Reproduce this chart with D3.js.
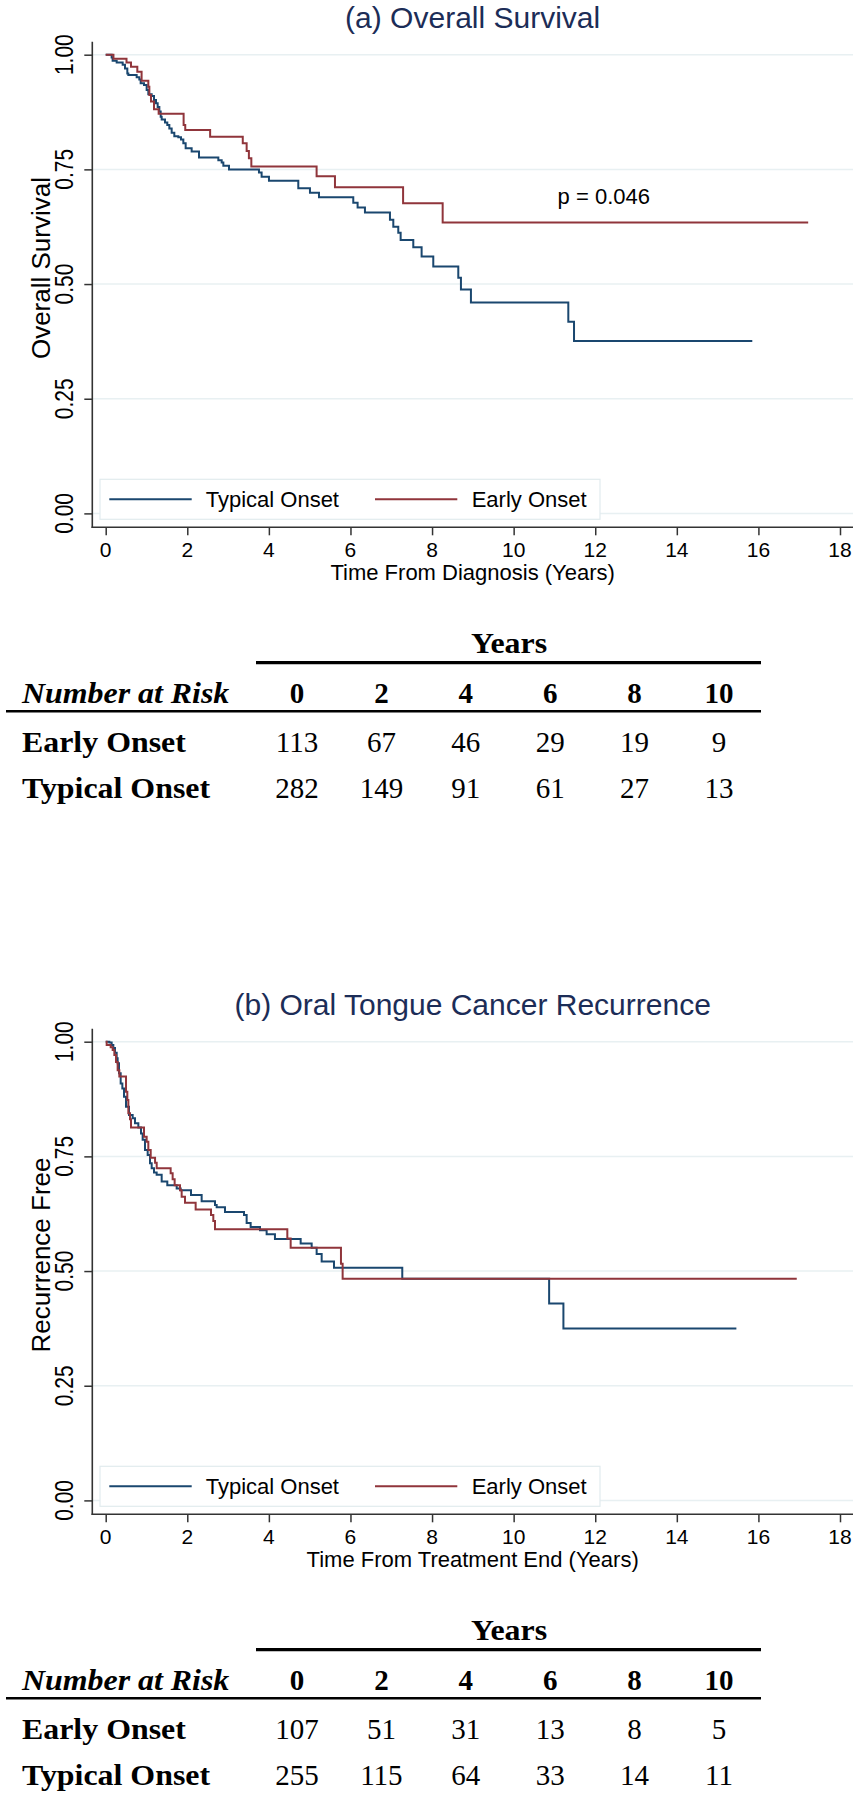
<!DOCTYPE html>
<html>
<head>
<meta charset="utf-8">
<script src="https://cdn.jsdelivr.net/npm/d3@7"></script>
<style>
  html, body { margin: 0; padding: 0; background: #fff; }
  svg { display: block; }
</style>
</head>
<body>
<div id="chart"></div>
<script>
// ---------------- DATA ----------------
// (a) Overall survival — step times (years) and survival values
const osTypicalT = [0, 0.146, 0.17, 0.269, 0.416, 0.473, 0.53, 0.555, 0.759, 0.824, 0.857, 0.939, 1.004, 1.045, 1.127, 1.184, 1.233, 1.274, 1.315, 1.348, 1.372, 1.453, 1.51, 1.56, 1.617, 1.682, 1.78, 1.846, 1.903, 1.96, 2.107, 2.287, 2.761, 2.843, 2.884, 3.022, 3.757, 3.822, 4.002, 4.721, 5.007, 5.228, 6.069, 6.175, 6.355, 6.968, 7.05, 7.172, 7.23, 7.54, 7.744, 8.03, 8.643, 8.708, 8.953, 11.34, 11.48, 15.85];
const osTypicalS = [1, 0.994, 0.987, 0.983, 0.978, 0.970, 0.959, 0.956, 0.951, 0.946, 0.938, 0.934, 0.923, 0.914, 0.910, 0.901, 0.894, 0.886, 0.876, 0.865, 0.859, 0.852, 0.847, 0.839, 0.830, 0.822, 0.820, 0.815, 0.807, 0.796, 0.789, 0.776, 0.770, 0.765, 0.758, 0.750, 0.743, 0.734, 0.725, 0.709, 0.699, 0.689, 0.677, 0.667, 0.656, 0.640, 0.625, 0.612, 0.596, 0.580, 0.560, 0.538, 0.514, 0.488, 0.460, 0.418, 0.376, 0.376];
const osEarlyT = [0, 0.19, 0.51, 0.62, 0.775, 0.88, 1.045, 1.07, 1.11, 1.184, 1.298, 1.91, 1.95, 2.56, 3.36, 3.455, 3.51, 3.57, 5.17, 5.62, 7.29, 8.26, 17.22];
const osEarlyS = [1, 0.991, 0.983, 0.974, 0.963, 0.943, 0.930, 0.912, 0.898, 0.881, 0.871, 0.847, 0.836, 0.821, 0.807, 0.790, 0.774, 0.756, 0.735, 0.711, 0.676, 0.634, 0.634];

// (b) Recurrence free
const rfTypicalT = [0, 0.089, 0.146, 0.187, 0.228, 0.269, 0.293, 0.326, 0.367, 0.408, 0.449, 0.498, 0.571, 0.661, 0.718, 0.8, 0.865, 0.906, 0.963, 1.029, 1.086, 1.127, 1.184, 1.249, 1.372, 1.51, 1.74, 1.838, 2.091, 2.352, 2.679, 2.72, 2.924, 3.39, 3.455, 3.553, 3.782, 3.945, 4.149, 4.779, 5.049, 5.171, 5.294, 5.596, 7.27, 10.87, 11.22, 15.46];
const rfTypicalS = [1, 0.998, 0.993, 0.986, 0.976, 0.964, 0.953, 0.931, 0.909, 0.898, 0.880, 0.858, 0.840, 0.833, 0.822, 0.813, 0.800, 0.786, 0.764, 0.753, 0.735, 0.724, 0.715, 0.710, 0.695, 0.687, 0.680, 0.676, 0.666, 0.652, 0.644, 0.639, 0.629, 0.622, 0.605, 0.596, 0.589, 0.580, 0.570, 0.560, 0.551, 0.537, 0.521, 0.507, 0.483, 0.429, 0.375, 0.375];
const rfEarlyT = [0, 0.024, 0.122, 0.171, 0.212, 0.253, 0.293, 0.334, 0.498, 0.53, 0.555, 0.596, 0.62, 0.939, 1.004, 1.045, 1.103, 1.21, 1.25, 1.592, 1.641, 1.69, 1.821, 1.862, 1.944, 2.205, 2.581, 2.638, 2.679, 4.452, 4.534, 5.767, 5.808, 16.94];
const rfEarlyS = [1, 0.993, 0.988, 0.982, 0.971, 0.956, 0.938, 0.924, 0.891, 0.873, 0.844, 0.831, 0.813, 0.793, 0.782, 0.764, 0.747, 0.736, 0.724, 0.713, 0.700, 0.687, 0.676, 0.662, 0.649, 0.634, 0.622, 0.609, 0.591, 0.571, 0.551, 0.516, 0.483, 0.483];

// Axis ticks
const xTicks = [0, 2, 4, 6, 8, 10, 12, 14, 16, 18];
const yTicks = [0, 0.25, 0.5, 0.75, 1];

// Legend / series
const seriesNames = ["Typical Onset", "Early Onset"];

// Number at risk tables
const riskYears = [0, 2, 4, 6, 8, 10];
const osRiskEarly = [113, 67, 46, 29, 19, 9];
const osRiskTypical = [282, 149, 91, 61, 27, 13];
const rfRiskEarly = [107, 51, 31, 13, 8, 5];
const rfRiskTypical = [255, 115, 64, 33, 14, 11];

// ---------------- DRAWING ----------------
const W = 863, H = 1800;
const BLUE = "#1a476f", RED = "#90353b", GRID = "#e8f0f2", TITLE = "#1c2d57";
const SANS = "'Liberation Sans', Arial, sans-serif";
const SERIF = "'Liberation Serif', 'Times New Roman', serif";

const svg = d3.select("#chart").append("svg")
  .attr("width", W).attr("height", H)
  .attr("viewBox", `0 0 ${W} ${H}`);
svg.append("rect").attr("width", W).attr("height", H).attr("fill", "#fff");

const panels = [
  { dy: 0, title: "(a) Overall Survival", ytitle: "Overall Survival",
    xtitle: "Time From Diagnosis (Years)",
    typ: [osTypicalT, osTypicalS], early: [osEarlyT, osEarlyS],
    pval: "p = 0.046", riskE: osRiskEarly, riskT: osRiskTypical },
  { dy: 987, title: "(b) Oral Tongue Cancer Recurrence", ytitle: "Recurrence Free",
    xtitle: "Time From Treatment End (Years)",
    typ: [rfTypicalT, rfTypicalS], early: [rfEarlyT, rfEarlyS],
    pval: null, riskE: rfRiskEarly, riskT: rfRiskTypical }
];

function stxt(g, x, y, str, o) {
  const t = g.append("text")
    .attr("transform", `translate(${x},${y})` + (o.rot ? ` rotate(${o.rot})` : "") + (o.sx ? ` scale(${o.sx},1)` : ""))
    .attr("x", 0).attr("y", 0)
    .attr("font-family", o.family || SANS)
    .attr("font-size", o.size)
    .attr("fill", o.fill || "#000")
    .attr("text-anchor", o.anchor || "start")
    .text(str);
  if (o.weight) t.attr("font-weight", o.weight);
  if (o.style) t.attr("font-style", o.style);
  return t;
}

panels.forEach(p => {
  const g = svg.append("g").attr("transform", `translate(0,${p.dy})`);
  const plotL = 92.3, plotR = 853, axisY = 527.3, axisTop = 41.7;
  const x = d3.scaleLinear().domain([0, 18]).range([105.7, 840]);
  const y = d3.scaleLinear().domain([0, 1]).range([513.4, 54.7]);

  // gridlines
  g.append("g").selectAll("line").data(yTicks).join("line")
    .attr("x1", plotL).attr("x2", plotR)
    .attr("y1", d => y(d)).attr("y2", d => y(d))
    .attr("stroke", GRID).attr("stroke-width", 1.5);

  // title
  stxt(g, (plotL + plotR) / 2, 28, p.title, { size: 30, anchor: "middle", fill: TITLE });

  // y axis
  const ya = g.append("g").attr("transform", `translate(${plotL},0)`)
    .call(d3.axisLeft(y).tickValues(yTicks).tickSize(8).tickFormat(""));
  ya.select(".domain").remove();
  ya.selectAll(".tick line").attr("stroke", "#333").attr("stroke-width", 1.5);
  yTicks.forEach(v => {
    stxt(g, 73.3, y(v), d3.format(".2f")(v), { size: 25, anchor: "middle", rot: -90, sx: 0.84 });
  });
  g.append("line").attr("x1", plotL).attr("x2", plotL).attr("y1", axisTop).attr("y2", axisY + 0.8)
    .attr("stroke", "#333").attr("stroke-width", 1.6);
  stxt(g, 50, y(0.5) - 16, p.ytitle, { size: 26, anchor: "middle", rot: -90 });

  // x axis
  const xa = g.append("g").attr("transform", `translate(0,${axisY})`)
    .call(d3.axisBottom(x).tickValues(xTicks).tickSize(8).tickFormat(""));
  xa.select(".domain").remove();
  xa.selectAll(".tick line").attr("stroke", "#333").attr("stroke-width", 1.5);
  xTicks.forEach(v => {
    stxt(g, x(v), axisY + 29.7, String(v), { size: 21, anchor: "middle" });
  });
  g.append("line").attr("x1", plotL - 0.8).attr("x2", plotR).attr("y1", axisY).attr("y2", axisY)
    .attr("stroke", "#333").attr("stroke-width", 1.6);
  stxt(g, (plotL + plotR) / 2, axisY + 52.7, p.xtitle, { size: 22, anchor: "middle" });

  // curves
  const line = d3.line().x(d => x(d[0])).y(d => y(d[1])).curve(d3.curveStepAfter);
  const mk = arr => arr[0].map((t, i) => [t, arr[1][i]]);
  [[p.typ, BLUE], [p.early, RED]].forEach(([arr, col]) => {
    g.append("path").datum(mk(arr)).attr("d", line)
      .attr("fill", "none").attr("stroke", col).attr("stroke-width", 2)
      .attr("stroke-linejoin", "miter").attr("stroke-linecap", "butt");
  });

  if (p.pval) stxt(g, 603.8, 204, p.pval, { size: 22, anchor: "middle" });

  // legend
  const lg = g.append("g");
  lg.append("rect").attr("x", 100).attr("y", axisY - 48).attr("width", 500).attr("height", 40)
    .attr("fill", "#fff").attr("stroke", "#e2ebee").attr("stroke-width", 1.2);
  const lx = [[109.3, 191.7, 205.7], [375, 457.3, 471.7]];
  [BLUE, RED].forEach((col, i) => {
    lg.append("line").attr("x1", lx[i][0]).attr("x2", lx[i][1])
      .attr("y1", axisY - 28).attr("y2", axisY - 28)
      .attr("stroke", col).attr("stroke-width", 2);
    stxt(lg, lx[i][2], axisY - 20.5, seriesNames[i], { size: 22 });
  });

  // risk table
  const tg = g.append("g");
  const cx = d3.scaleLinear().domain([0, 10]).range([297, 719]);
  const TS = 29, SX = 1.1;
  stxt(tg, 509, 653.3, "Years", { size: TS, family: SERIF, weight: "bold", anchor: "middle", sx: SX });
  tg.append("line").attr("x1", 256).attr("x2", 761).attr("y1", 662.7).attr("y2", 662.7)
    .attr("stroke", "#000").attr("stroke-width", 3.2);
  stxt(tg, 22, 703.3, "Number at Risk", { size: TS, family: SERIF, weight: "bold", style: "italic", sx: SX });
  riskYears.forEach(yr => {
    stxt(tg, cx(yr), 703.3, String(yr), { size: TS, family: SERIF, weight: "bold", anchor: "middle" });
  });
  tg.append("line").attr("x1", 6).attr("x2", 761).attr("y1", 711.2).attr("y2", 711.2)
    .attr("stroke", "#000").attr("stroke-width", 2.6);
  [["Early Onset", p.riskE, 751.7], ["Typical Onset", p.riskT, 798.3]].forEach(([lab, vals, by]) => {
    stxt(tg, 22, by, lab, { size: TS, family: SERIF, weight: "bold", sx: SX });
    vals.forEach((v, i) => {
      stxt(tg, cx(riskYears[i]), by, String(v), { size: TS, family: SERIF, anchor: "middle" });
    });
  });
});
</script>
</body>
</html>
